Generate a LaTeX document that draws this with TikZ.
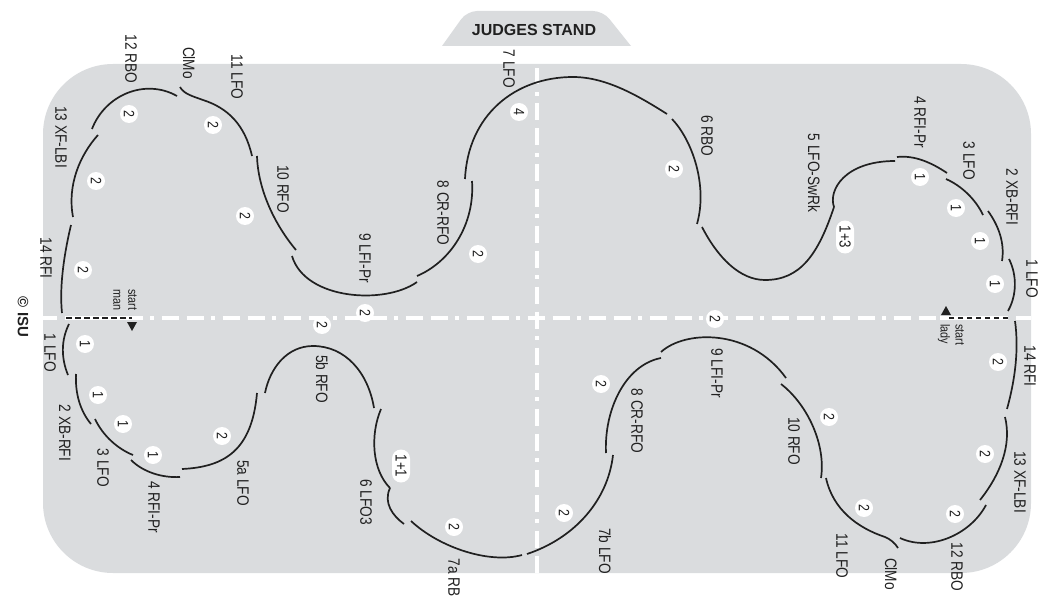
\documentclass[tikz,border=0pt]{standalone}
\usepackage{fontspec}
\setmainfont{Liberation Sans}
\newfontfamily\narrowFont[FakeStretch=0.83]{Liberation Sans}
\definecolor{colorIce}{HTML}{DADCDE}
\definecolor{colorLine}{HTML}{202020}
\tikzset{
  stepLine/.style={colorLine, line width=1.7pt, line cap=butt},
  centreLine/.style={white, line width=4pt, dash pattern=on 4pt off 7.5pt on 17pt off 8pt on 17pt off 7.5pt},
  startBack/.style={white, line width=4pt},
  startLine/.style={colorLine, line width=1.5pt, dash pattern=on 5.5pt off 3.5pt},
  stepLabel/.style={rotate=-90, inner sep=0pt, text=colorLine, font=\narrowFont\fontsize{16.5}{18}\selectfont},
  startLabel/.style={rotate=-90, inner sep=0pt, align=left, text=colorLine, font=\narrowFont\fontsize{13}{15}\selectfont},
  countBubble/.style={rotate=-90, circle, fill=white, inner sep=0pt, minimum size=18pt, text=colorLine, font=\narrowFont\fontsize{15}{16}\selectfont},
  countPill/.style={rotate=-90, rectangle, rounded corners=9pt, fill=white, inner sep=0pt, minimum width=33pt, minimum height=18pt, text=colorLine, font=\narrowFont\fontsize{16}{17}\selectfont}
}
\begin{document}
\begin{tikzpicture}[x=1pt, y=-1pt]
\useasboundingbox (0,0) rectangle (1046,596);
\fill[colorIce, rounded corners=70pt] (43,64) rectangle (1031,573);
\fill[colorIce] (442,46) [rounded corners=10pt] -- (467,11) -- (603,11) [sharp corners] -- (631,46) -- cycle;
\draw[centreLine, dash phase=15pt] (43,318) -- (1031,318);
\draw[centreLine, dash phase=37pt] (537,68) -- (537,573);
\node[font=\bfseries\fontsize{16}{18}\selectfont, text=colorLine, inner sep=0pt] (standLabel) at (534,30) {JUDGES STAND};
\node[rotate=-90, inner sep=0pt, text=colorLine, font=\bfseries\fontsize{15}{16}\selectfont] (isoLabel) at (23,317) {© ISU};
\draw[stepLine] (71,225) .. controls (65,250) and (59,285) .. (62,313);
\draw[stepLine] (98,135) .. controls (80,155) and (67,185) .. (73,217);
\draw[stepLine] (92,129) .. controls (105,95) and (145,78) .. (177,96);
\draw[stepLine] (180,87) .. controls (184,94) and (192,96) .. (203,100) .. controls (228,108) and (245,125) .. (252,156);
\draw[stepLine] (257,156) .. controls (258,190) and (275,225) .. (296,250);
\draw[stepLine] (292,256) .. controls (305,300) and (385,305) .. (417,282);
\draw[stepLine] (417,276) .. controls (450,262) and (475,225) .. (472,181);
\draw[stepLine] (465,179) .. controls (468,115) and (515,77) .. (573,77) .. controls (607,77) and (640,97) .. (667,114);
\draw[stepLine] (672,119) .. controls (692,140) and (708,185) .. (697,224);
\draw[stepLine] (702,227) .. controls (718,258) and (740,280) .. (765,280) .. controls (800,280) and (818,255) .. (834,207);
\draw[stepLine] (834,207) .. controls (828,190) and (845,161) .. (895,161);
\draw[stepLine] (897,157) .. controls (915,155) and (932,163) .. (947,173);
\draw[stepLine] (946,179) .. controls (962,186) and (976,200) .. (983,215);
\draw[stepLine] (988,211) .. controls (998,225) and (1005,242) .. (1002,261);
\draw[stepLine] (1009,259) .. controls (1017,275) and (1017,295) .. (1008,311);
\draw[stepLine] (69,324) .. controls (61,340) and (61,358) .. (68,375);
\draw[stepLine] (76,374) .. controls (75,395) and (81,412) .. (91,424);
\draw[stepLine] (95,419) .. controls (103,436) and (118,449) .. (133,455);
\draw[stepLine] (131,460) .. controls (143,472) and (162,478) .. (180,477);
\draw[stepLine] (182,469) .. controls (225,467) and (252,450) .. (257,393);
\draw[stepLine] (265,393) .. controls (270,368) and (287,346) .. (313,346) .. controls (345,346) and (368,372) .. (374,408);
\draw[stepLine] (381,409) .. controls (370,435) and (372,470) .. (390,488);
\draw[stepLine] (390,488) .. controls (383,503) and (393,516) .. (404,524);
\draw[stepLine] (411,521) .. controls (440,548) and (490,564) .. (522,555);
\draw[stepLine] (527,554) .. controls (575,538) and (608,500) .. (613,455);
\draw[stepLine] (606,453) .. controls (604,410) and (625,365) .. (661,358);
\draw[stepLine] (661,352) .. controls (685,330) and (750,328) .. (786,378);
\draw[stepLine] (781,384) .. controls (808,405) and (826,445) .. (821,478);
\draw[stepLine] (826,478) .. controls (833,510) and (858,528) .. (885,537) .. controls (890,539) and (895,543) .. (898,548);
\draw[stepLine] (900,538) .. controls (930,552) and (970,535) .. (986,505);
\draw[stepLine] (980,500) .. controls (1000,475) and (1012,445) .. (1005,417);
\draw[stepLine] (1007,409) .. controls (1015,380) and (1019,350) .. (1015,321);
\coordinate (manEnd) at (66,318);
\coordinate (manMark) at (132,318);
\coordinate (manBack) at (143,318);
\coordinate (ladyEnd) at (1008,318);
\coordinate (ladyMark) at (946,318);
\coordinate (ladyBack) at (940,318);
\draw[startBack] (manEnd) -- (manBack);
\draw[startBack] (ladyEnd) -- (ladyBack);
\draw[startLine] (manEnd) -- (manMark);
\draw[startLine] (ladyEnd) -- (ladyMark);
\fill[colorLine] (127,322) -- (137,322) -- (132,331) -- cycle;
\fill[colorLine] (941,315) -- (951,315) -- (946,306) -- cycle;
\node[startLabel] (manLabel) at (125,300) {start\\man};
\node[startLabel] (ladyLabel) at (951,335) {start\\lady};
\node[stepLabel] (man1) at (50,353) {1 LFO};
\node[stepLabel] (man2) at (65,433) {2 XB-RFI};
\node[stepLabel] (man3) at (103,468) {3 LFO};
\node[stepLabel] (man4) at (154,507) {4 RFI-Pr};
\node[stepLabel] (man5a) at (243,483) {5a LFO};
\node[stepLabel] (man5b) at (322,379) {5b RFO};
\node[stepLabel] (man6) at (366,502) {6 LFO3};
\node[stepLabel] (man7a) at (454,578) {7a RB};
\node[stepLabel] (man7b) at (605,551) {7b LFO};
\node[stepLabel] (man8) at (637,421) {8 CR-RFO};
\node[stepLabel] (man9) at (717,373) {9 LFI-Pr};
\node[stepLabel] (man10) at (794,441) {10 RFO};
\node[stepLabel] (man11) at (842,556) {11 LFO};
\node[stepLabel] (manClMo) at (891,574) {ClMo};
\node[stepLabel] (man12) at (957,567) {12 RBO};
\node[stepLabel] (man13) at (1020,482) {13 XF-LBI};
\node[stepLabel] (man14) at (1030,366) {14 RFI};
\node[stepLabel] (lady1) at (1032,279) {1 LFO};
\node[stepLabel] (lady2) at (1012,197) {2 XB-RFI};
\node[stepLabel] (lady3) at (969,161) {3 LFO};
\node[stepLabel] (lady4) at (920,122) {4 RFI-Pr};
\node[stepLabel] (lady5) at (814,173) {5 LFO-SwRk};
\node[stepLabel] (lady6) at (707,136) {6 RBO};
\node[stepLabel] (lady7) at (509,69) {7 LFO};
\node[stepLabel] (lady8) at (443,213) {8 CR-RFO};
\node[stepLabel] (lady9) at (365,258) {9 LFI-Pr};
\node[stepLabel] (lady10) at (283,189) {10 RFO};
\node[stepLabel] (lady11) at (237,77) {11 LFO};
\node[stepLabel] (ladyClMo) at (189,63) {ClMo};
\node[stepLabel] (lady12) at (131,59) {12 RBO};
\node[stepLabel] (lady13) at (61,137) {13 XF-LBI};
\node[stepLabel] (lady14) at (46,258) {14 RFI};
\node[countBubble] (countA1) at (129,114) {2};
\node[countBubble] (countA2) at (213,125) {2};
\node[countBubble] (countA3) at (96,181) {2};
\node[countBubble] (countA4) at (245,216) {2};
\node[countBubble] (countA5) at (83,270) {2};
\node[countBubble] (countA6) at (365,313) {2};
\node[countBubble] (countA7) at (519,112) {4};
\node[countBubble] (countA8) at (674,169) {2};
\node[countBubble] (countA9) at (478,254) {2};
\node[countBubble] (countB1) at (920,177) {1};
\node[countBubble] (countB2) at (956,208) {1};
\node[countBubble] (countB3) at (980,241) {1};
\node[countBubble] (countB4) at (995,284) {1};
\node[countPill] (countB5) at (845,237) {1+3};
\node[countBubble] (countC1) at (322,325) {2};
\node[countBubble] (countC2) at (85,344) {1};
\node[countBubble] (countC3) at (98,395) {1};
\node[countBubble] (countC4) at (123,424) {1};
\node[countBubble] (countC5) at (153,455) {1};
\node[countBubble] (countC6) at (222,436) {2};
\node[countPill] (countC7) at (401,466) {1+1};
\node[countBubble] (countC8) at (454,527) {2};
\node[countBubble] (countD1) at (564,513) {2};
\node[countBubble] (countD2) at (601,384) {2};
\node[countBubble] (countD3) at (715,319) {2};
\node[countBubble] (countD4) at (829,417) {2};
\node[countBubble] (countD5) at (864,508) {2};
\node[countBubble] (countD6) at (955,514) {2};
\node[countBubble] (countD7) at (985,454) {2};
\node[countBubble] (countD8) at (998,362) {2};
\end{tikzpicture}
\end{document}
